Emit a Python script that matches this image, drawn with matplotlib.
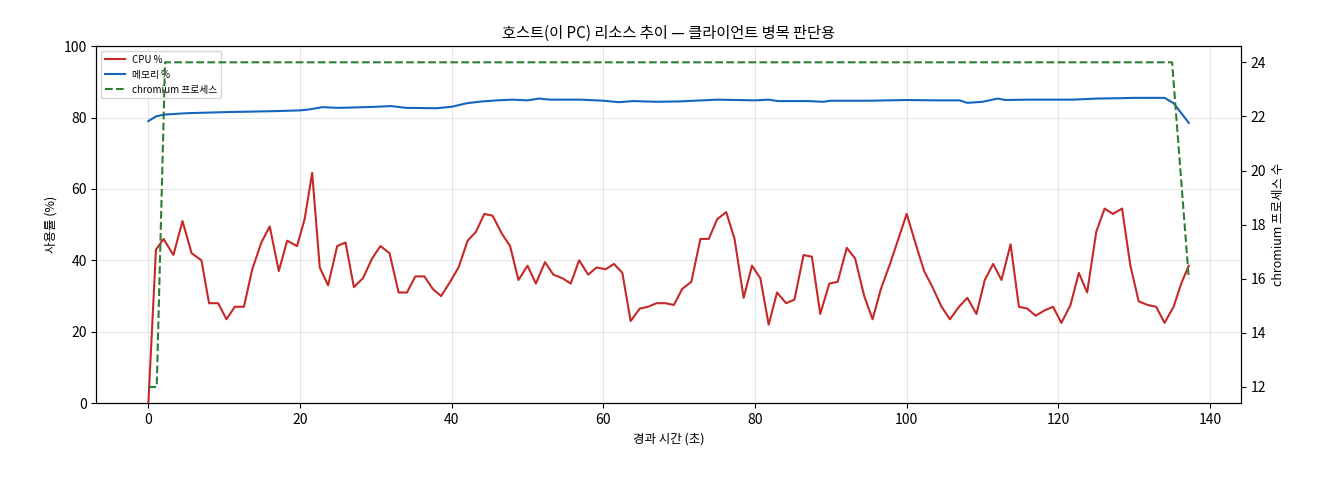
import matplotlib
matplotlib.use("Agg")
import matplotlib.pyplot as plt

plt.rcParams["font.family"] = ["Noto Sans CJK KR", "DejaVu Sans"]

# CPU samples (elapsed seconds, percent)
cpu_t = [0, 1, 2, 3.3, 4.5, 5.7, 7, 8, 9.2, 10.3, 11.4, 12.6, 13.7, 14.9, 16, 17.2, 18.3, 19.6,
         20.6, 21.6, 22.6, 23.7, 24.9, 26, 27.1, 28.3, 29.5, 30.6, 31.8, 33, 34.1, 35.2, 36.4,
         37.5, 38.6, 39.8, 40.9, 42.1, 43.2, 44.3, 45.4, 46.6, 47.7, 48.8, 50, 51.1, 52.3, 53.4,
         54.6, 55.7, 56.8, 58, 59.1, 60.3, 61.4, 62.5, 63.6, 64.8, 65.9, 67, 68.2, 69.3, 70.4,
         71.6, 72.8, 73.9, 75, 76.2, 77.3, 78.5, 79.6, 80.7, 81.8, 82.9, 84.1, 85.2, 86.4, 87.5,
         88.6, 89.8, 90.9, 92.1, 93.2, 94.4, 95.5, 96.6, 97.8, 98.9, 100, 101.2, 102.3, 103.4,
         104.6, 105.7, 106.9, 108, 109.2, 110.3, 111.4, 112.5, 113.7, 114.8, 115.9, 117, 118.2,
         119.3, 120.4, 121.6, 122.7, 123.8, 125, 126.1, 127.2, 128.4, 129.5, 130.6, 131.8,
         132.9, 134, 135.2, 136.2, 137.2]
cpu = [0, 43, 46, 41.5, 51, 42, 40, 28, 28, 23.5, 27, 27, 37.5, 45, 49.5, 37, 45.5, 44,
       51.5, 64.5, 38, 33, 44, 45, 32.5, 35, 40.5, 44, 42, 31, 31, 35.5, 35.5,
       32, 30, 34, 38, 45.5, 48, 53, 52.5, 47.5, 44, 34.5, 38.5, 33.5, 39.5, 36,
       35, 33.5, 40, 36, 38, 37.5, 39, 36.5, 23, 26.5, 27, 28, 28, 27.5, 32,
       34, 46, 46, 51.5, 53.5, 46, 29.5, 38.5, 35, 22, 31, 28, 29, 41.5, 41,
       25, 33.5, 34, 43.5, 40.5, 30, 23.5, 32, 39, 46, 53, 44.5, 37, 32.5,
       27, 23.5, 27, 29.5, 25, 34.5, 39, 34.5, 44.5, 27, 26.5, 24.5, 26,
       27, 22.5, 27.5, 36.5, 31, 48, 54.5, 53, 54.5, 38.5, 28.5, 27.5,
       27, 22.5, 27, 33.5, 38.5]

mem_t = [0, 1, 2, 5, 10, 17, 20, 21, 23, 25, 27, 30, 32, 34, 38, 40, 42, 44, 46, 48, 50, 51.5,
         53, 57, 60, 62, 64, 67, 70, 75, 80, 81.8, 83, 87, 89, 90, 95, 100, 104, 107, 108,
         110, 112, 113, 116, 120, 122, 125, 128, 130, 134, 135.2, 137.2]
mem = [79, 80.3, 80.8, 81.2, 81.5, 81.8, 82, 82.2, 82.9, 82.7, 82.8, 83, 83.2, 82.7, 82.6, 83, 84,
       84.5, 84.8, 85, 84.8, 85.3, 85, 85, 84.7, 84.3, 84.6, 84.4, 84.5, 85, 84.8, 85, 84.6,
       84.6, 84.4, 84.7, 84.7, 84.9, 84.8, 84.8, 84.1, 84.4, 85.3, 84.9, 85, 85, 85, 85.3,
       85.4, 85.5, 85.5, 84, 78.5]

proc_t = [0, 1.1, 2.2, 135, 137.2]
procs = [12, 12, 24, 24, 16]

fig, ax = plt.subplots(figsize=(13.2, 4.8), dpi=100)
fig.subplots_adjust(left=0.073, right=0.94, top=0.904, bottom=0.16)

l1, = ax.plot(cpu_t, cpu, color="#c62828", lw=1.5, label="CPU %")
l2, = ax.plot(mem_t, mem, color="#1565c0", lw=1.5, label="메모리 %")
ax.set_ylim(0, 100)
ax.set_ylabel("사용률 (%)", fontsize=9)
ax.set_xlabel("경과 시간 (초)", fontsize=9)
ax.grid(True, alpha=0.3)

ax2 = ax.twinx()
l3, = ax2.plot(proc_t, procs, color="#2e7d32", lw=1.5, ls="--", label="chromium 프로세스")
ax2.set_ylabel("chromium 프로세스 수", fontsize=9)

ax.set_title("호스트(이 PC) 리소스 추이 — 클라이언트 병목 판단용", fontsize=11)
ax.legend(handles=[l1, l2, l3], loc="upper left", fontsize=7)

fig.savefig("out.png")
